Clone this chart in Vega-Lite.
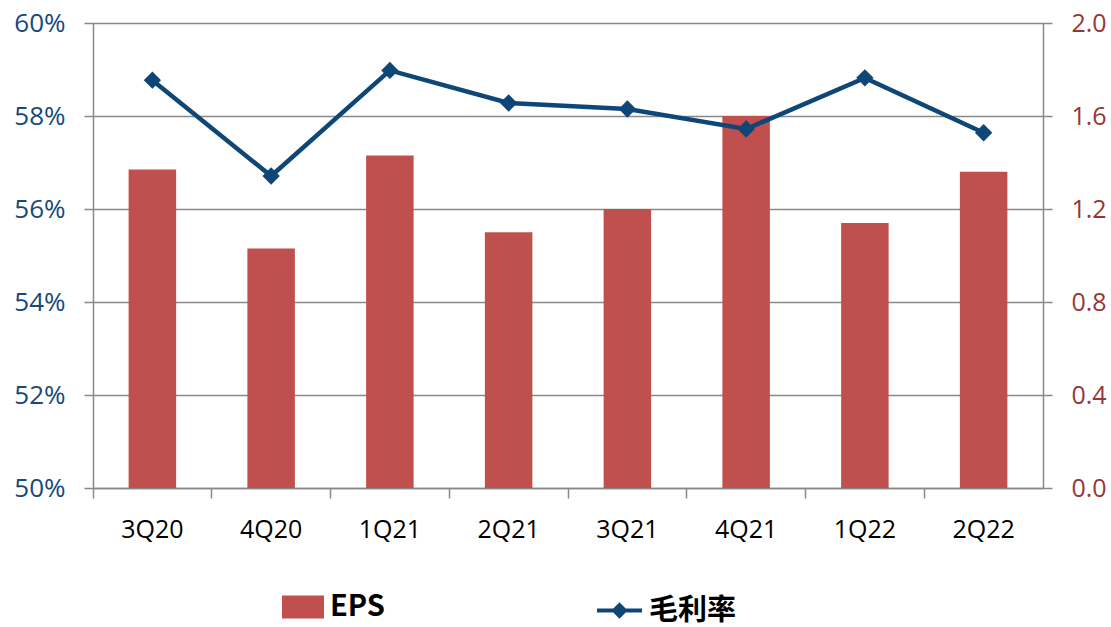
{
  "$schema": "https://vega.github.io/schema/vega-lite/v6.json",
  "width": 950,
  "height": 465,
  "autosize": {"type": "none"},
  "padding": {"left": 93, "top": 23, "right": 68, "bottom": 139},
  "background": "white",
  "config": {
    "view": {"stroke": null},
    "axis": {
      "labelFont": "Open Sans",
      "labelFontSize": 25,
      "domainColor": "#898989",
      "domainWidth": 1.5,
      "tickColor": "#898989",
      "tickWidth": 1.5,
      "tickSize": 9,
      "gridColor": "#898989",
      "gridWidth": 1.5,
      "title": null
    },
    "legend": {
      "labelFont": "Noto Sans CJK TC",
      "labelFontSize": 29,
      "labelFontWeight": "bold",
      "labelColor": "#000000",
      "padding": 0,
      "title": null
    }
  },
  "data": {
    "values": [
      {"q": "3Q20", "eps": 1.37, "margin": 0.5877},
      {"q": "4Q20", "eps": 1.03, "margin": 0.5671},
      {"q": "1Q21", "eps": 1.43, "margin": 0.5898},
      {"q": "2Q21", "eps": 1.10, "margin": 0.5828},
      {"q": "3Q21", "eps": 1.20, "margin": 0.5815},
      {"q": "4Q21", "eps": 1.60, "margin": 0.5772},
      {"q": "1Q22", "eps": 1.14, "margin": 0.5882},
      {"q": "2Q22", "eps": 1.36, "margin": 0.5764}
    ]
  },
  "encoding": {
    "x": {
      "field": "q",
      "type": "nominal",
      "sort": null,
      "scale": {"paddingInner": 0, "paddingOuter": 0},
      "axis": {
        "labelAngle": 0,
        "bandPosition": 0,
        "labelColor": "#000000",
        "labelPadding": 19,
        "tickSize": 10,
        "grid": false
      }
    }
  },
  "layer": [
    {
      "mark": {"type": "bar", "width": {"band": 0.4}},
      "encoding": {
        "y": {
          "field": "eps",
          "type": "quantitative",
          "scale": {"domain": [0, 2], "nice": false, "zero": true},
          "axis": {
            "orient": "right",
            "values": [0, 0.4, 0.8, 1.2, 1.6, 2.0],
            "format": ".1f",
            "grid": false,
            "labelColor": "#953735",
            "labelPadding": 19
          }
        },
        "fill": {
          "datum": "EPS",
          "scale": {"range": ["#C0504D"]},
          "legend": {
            "orient": "none",
            "legendX": 189,
            "legendY": 563,
            "symbolType": "M-1,-0.55H1V0.55H-1Z",
            "symbolSize": 1764,
            "symbolStrokeWidth": 0,
            "labelOffset": 6
          }
        }
      }
    },
    {
      "layer": [
        {
          "mark": {"type": "line", "strokeWidth": 4.5},
          "encoding": {
            "y": {
              "field": "margin",
              "type": "quantitative",
              "scale": {"domain": [0.5, 0.6], "nice": false, "zero": false},
              "axis": {
                "orient": "left",
                "values": [0.5, 0.52, 0.54, 0.56, 0.58, 0.6],
                "format": ".0%",
                "grid": true,
                "labelColor": "#17497A",
                "labelFontSize": 26,
                "labelPadding": 19
              }
            },
            "stroke": {
              "datum": "毛利率",
              "scale": {"range": ["#0E4677"]},
              "legend": {
                "orient": "none",
                "legendX": 502,
                "legendY": 563,
                "symbolType": "M-1,0H1M0,-0.24L0.24,0L0,0.24L-0.24,0Z",
                "symbolSize": 2025,
                "symbolStrokeWidth": 4,
                "labelOffset": 5,
                "encode": {"symbols": {"update": {"fill": {"value": "#0E4677"}}}}
              }
            }
          }
        },
        {
          "mark": {"type": "point", "shape": "diamond", "filled": true, "size": 300, "color": "#0E4677", "opacity": 1},
          "encoding": {
            "y": {"field": "margin", "type": "quantitative"}
          }
        }
      ]
    }
  ],
  "resolve": {"scale": {"y": "independent"}}
}
